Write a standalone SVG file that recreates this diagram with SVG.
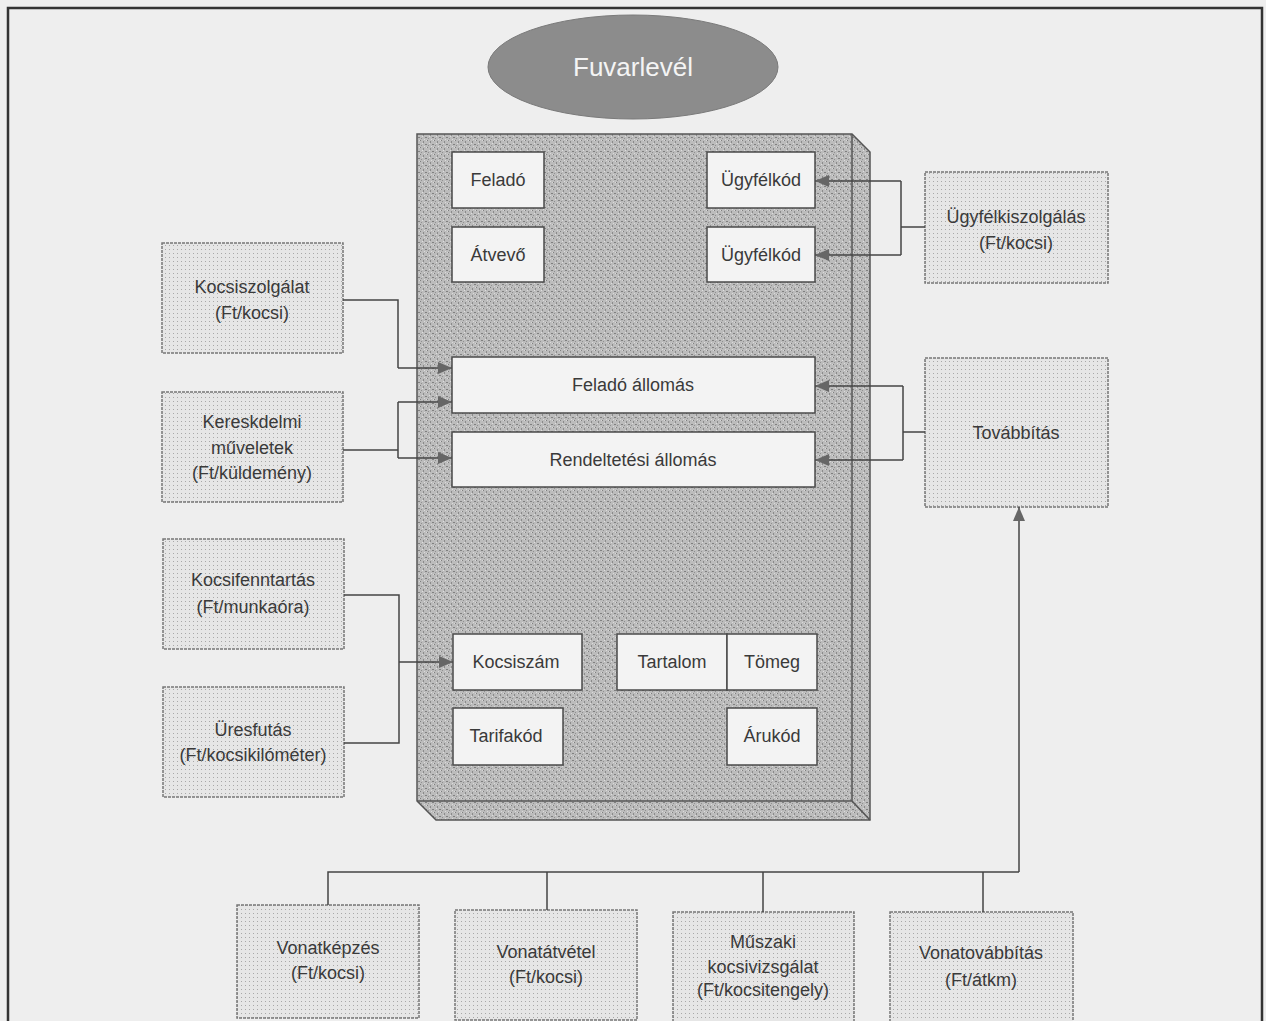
<svg xmlns="http://www.w3.org/2000/svg" width="1266" height="1021" viewBox="0 0 1266 1021">
<defs>
<pattern id="noise" width="7" height="7" patternUnits="userSpaceOnUse">
<rect width="7" height="7" fill="#bcbcbc"/>
<rect x="0" y="0" width="1" height="1" fill="#7e7e7e"/>
<rect x="3" y="1" width="1" height="2" fill="#8a8a8a"/>
<rect x="5" y="4" width="2" height="1" fill="#808080"/>
<rect x="1" y="5" width="1" height="1" fill="#909090"/>
<rect x="2" y="3" width="1" height="1" fill="#dddddd"/>
<rect x="6" y="0" width="1" height="1" fill="#d8d8d8"/>
<rect x="4" y="6" width="1" height="1" fill="#dadada"/>
</pattern>
<pattern id="dots" width="4" height="4" patternUnits="userSpaceOnUse">
<rect width="4" height="4" fill="#e6e6e6"/>
<rect x="1" y="1" width="1" height="1" fill="#a8a8a8"/>
</pattern>
<marker id="arr" markerWidth="15" markerHeight="12" refX="14" refY="6" orient="auto" markerUnits="userSpaceOnUse">
<path d="M0,0 L14,6 L0,12 z" fill="#666"/>
</marker>
</defs>
<style>
text{font-family:"Liberation Sans",Arial,sans-serif;font-size:18px;fill:#3a3a3a;text-anchor:middle}
.inner{fill:#f3f3f3;stroke:#4a4a4a;stroke-width:1.5}
.outer{fill:url(#dots);stroke:#777;stroke-width:1.5;stroke-dasharray:3 1}
.con{fill:none;stroke:#444;stroke-width:1.5}
.arrow{fill:none;stroke:#444;stroke-width:1.5;marker-end:url(#arr)}
</style>
<rect width="1266" height="1021" fill="#eeeeee"/>
<path d="M8,1021 V8 H1262 V1021" fill="none" stroke="#333" stroke-width="2.5"/>

<g id="fuvarlevel">
<ellipse cx="633" cy="67" rx="145" ry="52" fill="#8c8c8c" stroke="#7a7a7a" stroke-width="1"/>
<text x="633" y="76" style="font-size:26px;fill:#f4f4f4">Fuvarlevél</text>
</g>

<g id="frame">
<path d="M417,134 H852 L870,152 V820 H436 L417,801 Z" fill="url(#noise)" stroke="#555" stroke-width="1.5"/>
<path d="M852,134 V801 H417 M852,801 L870,820" fill="none" stroke="#555" stroke-width="1.5"/>
</g>

<g id="felado"><rect class="inner" x="452" y="152" width="92" height="56"/><text x="498" y="186">Feladó</text></g>
<g id="atvevo"><rect class="inner" x="452" y="227" width="92" height="55"/><text x="498" y="261">Átvevő</text></g>
<g id="ugyfelkod1"><rect class="inner" x="707" y="152" width="108" height="56"/><text x="761" y="186">Ügyfélkód</text></g>
<g id="ugyfelkod2"><rect class="inner" x="707" y="227" width="108" height="55"/><text x="761" y="261">Ügyfélkód</text></g>
<g id="felado-allomas"><rect class="inner" x="452" y="357" width="363" height="56"/><text x="633" y="391">Feladó állomás</text></g>
<g id="rendeltetesi-allomas"><rect class="inner" x="452" y="432" width="363" height="55"/><text x="633" y="466">Rendeltetési állomás</text></g>
<g id="kocsiszam"><rect class="inner" x="453" y="634" width="129" height="56"/><text x="516" y="668">Kocsiszám</text></g>
<g id="tartalom"><rect class="inner" x="617" y="634" width="110" height="56"/><text x="672" y="668">Tartalom</text></g>
<g id="tomeg"><rect class="inner" x="727" y="634" width="90" height="56"/><text x="772" y="668">Tömeg</text></g>
<g id="tarifakod"><rect class="inner" x="453" y="708" width="110" height="57"/><text x="506" y="742">Tarifakód</text></g>
<g id="arukod"><rect class="inner" x="727" y="708" width="90" height="57"/><text x="772" y="742">Árukód</text></g>

<g id="kocsiszolgalat"><rect class="outer" x="162" y="243" width="181" height="110"/><text x="252" y="293">Kocsiszolgálat</text><text x="252" y="319">(Ft/kocsi)</text></g>
<g id="kereskedelmi"><rect class="outer" x="162" y="392" width="181" height="110"/><text x="252" y="428">Kereskdelmi</text><text x="252" y="454">műveletek</text><text x="252" y="479">(Ft/küldemény)</text></g>
<g id="kocsifenntartas"><rect class="outer" x="163" y="539" width="181" height="110"/><text x="253" y="586">Kocsifenntartás</text><text x="253" y="613">(Ft/munkaóra)</text></g>
<g id="uresfutas"><rect class="outer" x="163" y="687" width="181" height="110"/><text x="253" y="736">Üresfutás</text><text x="253" y="761">(Ft/kocsikilóméter)</text></g>
<g id="ugyfelkiszolgalas"><rect class="outer" x="925" y="172" width="183" height="111"/><text x="1016" y="223">Ügyfélkiszolgálás</text><text x="1016" y="249">(Ft/kocsi)</text></g>
<g id="tovabbitas"><rect class="outer" x="925" y="358" width="183" height="149"/><text x="1016" y="439">Továbbítás</text></g>
<g id="vonatkepzes"><rect class="outer" x="237" y="905" width="182" height="113"/><text x="328" y="954">Vonatképzés</text><text x="328" y="979">(Ft/kocsi)</text></g>
<g id="vonatatvetel"><rect class="outer" x="455" y="910" width="182" height="110"/><text x="546" y="958">Vonatátvétel</text><text x="546" y="983">(Ft/kocsi)</text></g>
<g id="muszaki"><rect class="outer" x="673" y="912" width="181" height="110"/><text x="763" y="948">Műszaki</text><text x="763" y="973">kocsivizsgálat</text><text x="763" y="996">(Ft/kocsitengely)</text></g>
<g id="vonattovabbitas"><rect class="outer" x="890" y="912" width="183" height="110"/><text x="981" y="959">Vonatovábbítás</text><text x="981" y="986">(Ft/átkm)</text></g>

<g id="connectors">
<path class="con" d="M343,300 H398 V368"/>
<path class="arrow" d="M398,368 H452"/>
<path class="con" d="M343,450 H398 M398,402 V458"/>
<path class="arrow" d="M398,402 H452"/>
<path class="arrow" d="M398,458 H452"/>
<path class="con" d="M344,595 H399 V743 H344"/>
<path class="arrow" d="M399,662 H453"/>
<path class="con" d="M925,227 H901 M901,181 V255"/>
<path class="arrow" d="M901,181 H815"/>
<path class="arrow" d="M901,255 H815"/>
<path class="con" d="M925,432 H903 M903,386 V460"/>
<path class="arrow" d="M903,386 H815"/>
<path class="arrow" d="M903,460 H815"/>
<path class="con" d="M328,905 V872 H1019 M547,872 V910 M763,872 V912 M983,872 V912"/>
<path class="arrow" d="M1019,872 V507"/>
</g>
</svg>
